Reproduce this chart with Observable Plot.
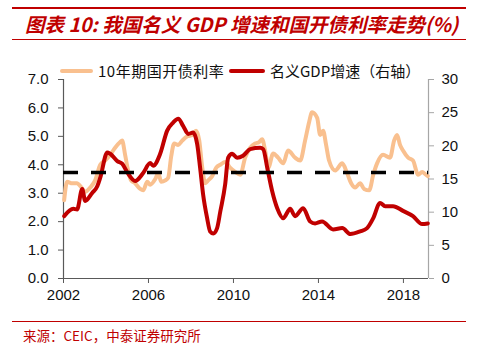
<!DOCTYPE html>
<html>
<head>
<meta charset="utf-8">
<script src="https://cdn.jsdelivr.net/npm/d3@7"></script>
<script src="https://cdn.jsdelivr.net/npm/@observablehq/plot@0.6"></script>
<style>
  html, body { margin: 0; padding: 0; background: #fff; }
  #wrap { position: relative; width: 480px; height: 353px; overflow: hidden; font-family: "Noto Sans CJK SC", sans-serif; }
  #chart { position: absolute; left: 0; top: 0; }
  .hline { position: absolute; left: 12px; width: 454px; background: #C00000; }
  #title { position: absolute; left: 25px; top: 11px; font-size: 19.5px; font-weight: bold; font-style: italic; color: #C00000; white-space: nowrap; line-height: 26px; }
  .leg { position: absolute; top: 61px; font-size: 15px; line-height: 20px; color: #111; white-space: nowrap; }
  .sw { position: absolute; height: 4px; top: 69px; border-radius: 2px; }
  #source { position: absolute; left: 23px; top: 326px; font-size: 13.5px; line-height: 18px; color: #C00000; white-space: nowrap; }
</style>
</head>
<body>
<div id="wrap">
  <div id="chart"></div>
  <div class="hline" style="top:7px;height:2px;"></div>
  <div id="title">图表 10: 我国名义 GDP 增速和国开债利率走势(%)</div>
  <div class="hline" style="top:39px;height:1px;"></div>
  <div class="sw" style="left:60px;width:33px;background:#F9C08F;"></div>
  <div class="leg" style="left:98px;letter-spacing:0.5px;">10年期国开债利率</div>
  <div class="sw" style="left:229px;width:36px;background:#C00000;"></div>
  <div class="leg" style="left:270px;">名义GDP增速（右轴）</div>
  <div class="hline" style="top:321px;height:1px;"></div>
  <div id="source">来源：CEIC，中泰证券研究所</div>
</div>
<script>
// 10-year CDB bond yield (left axis, %)
const yieldYears = [2002.03,2002.17,2002.41,2002.64,2002.79,2003.02,2003.26,2003.49,2003.73,2003.96,2004.20,2004.43,2004.67,2004.76,2004.90,2005.04,2005.18,2005.37,2005.61,2005.75,2005.94,2006.08,2006.32,2006.46,2006.60,2006.79,2006.93,2007.07,2007.21,2007.40,2007.59,2007.83,2008.06,2008.24,2008.39,2008.53,2008.67,2008.81,2009.00,2009.19,2009.38,2009.61,2009.84,2010.08,2010.32,2010.55,2010.79,2011.02,2011.21,2011.35,2011.49,2011.64,2011.87,2012.10,2012.34,2012.57,2012.90,2013.14,2013.37,2013.56,2013.70,2013.94,2014.08,2014.22,2014.36,2014.50,2014.79,2015.12,2015.35,2015.54,2015.73,2015.96,2016.15,2016.39,2016.58,2016.76,2017.04,2017.37,2017.56,2017.70,2017.84,2017.98,2018.22,2018.45,2018.69,2018.88,2019.06,2019.15];
const yieldValues = [2.75,3.40,3.35,3.35,3.25,3.05,3.20,3.45,4.00,4.15,4.35,4.60,4.80,4.85,4.35,3.80,3.45,3.35,3.15,3.10,3.40,3.30,3.50,3.70,3.40,3.45,3.55,4.30,4.75,4.70,4.85,5.00,5.05,5.20,4.85,3.90,3.35,3.45,3.60,3.90,4.00,4.10,3.90,3.75,3.65,4.25,4.60,4.75,4.80,4.90,4.50,3.90,4.40,4.25,4.05,4.50,4.25,4.15,4.85,5.50,5.85,5.65,5.05,5.20,4.70,4.15,3.80,4.05,3.70,3.35,3.20,3.35,3.15,3.10,3.65,4.05,4.35,4.25,4.85,5.05,4.70,4.50,4.25,4.15,3.65,3.75,3.65,3.60];
// Nominal GDP growth (right axis, %)
const gdpYears = [2002.03,2002.46,2002.64,2002.88,2003.02,2003.35,2003.59,2003.73,2004.06,2004.20,2004.53,2004.76,2005.04,2005.37,2005.75,2006.08,2006.22,2006.55,2006.88,2007.16,2007.40,2007.63,2007.87,2008.10,2008.29,2008.43,2008.57,2008.76,2008.90,2009.05,2009.23,2009.38,2009.61,2009.75,2009.94,2010.17,2010.45,2010.79,2011.26,2011.40,2011.59,2011.82,2012.06,2012.34,2012.67,2012.90,2013.28,2013.61,2013.84,2014.17,2014.69,2015.12,2015.50,2015.96,2016.29,2016.58,2016.90,2017.14,2017.51,2017.98,2018.45,2018.88,2019.15];
const gdpValues = [9.4,10.5,10.4,13.5,11.7,12.9,13.9,15.2,19.0,18.8,17.7,17.3,15.8,14.7,15.9,17.4,17.0,18.8,22.3,23.5,24.1,23.0,21.8,22.0,20.3,16.7,12.7,9.1,7.1,6.8,7.6,10.1,14.2,18.2,18.8,18.2,18.5,19.5,19.7,19.5,16.7,13.2,10.6,9.1,10.5,9.4,10.6,8.6,8.3,8.6,7.4,7.6,6.7,7.1,7.6,9.1,11.4,10.9,10.9,10.2,9.4,8.2,8.3];
const avgYield = 3.73;
const leftTicks = [0,1,2,3,4,5,6,7];
const rightTicks = [0,5,10,15,20,25,30];
const yearTicks = [2002,2006,2010,2014,2018];
const xStart = 2002, xEnd = 2019.18;

const k = 7 / 30; // right-axis to left-axis conversion
const yieldData = yieldYears.map((t, i) => ({t, v: yieldValues[i]}));
const gdpData = gdpYears.map((t, i) => ({t, v: gdpValues[i] * k}));

const axisFont = "Liberation Sans, Arial, sans-serif";
const chart = Plot.plot({
  width: 480,
  height: 353,
  marginLeft: 63,
  marginRight: 52,
  marginTop: 79,
  marginBottom: 75,
  style: {fontFamily: axisFont, fontSize: "15px", color: "#111", background: "transparent"},
  x: {domain: [xStart, xEnd], nice: false},
  y: {domain: [0, 7], nice: false},
  marks: [
    Plot.axisY({anchor: "left", ticks: leftTicks, tickFormat: d => d.toFixed(1), tickSize: 5, tickPadding: 10, stroke: "#595959", fontSize: 15, label: null}),
    Plot.axisY({anchor: "right", ticks: rightTicks.map(d => d * k), tickFormat: d => String(Math.round(d / k)), tickSize: 5, tickPadding: 8, stroke: "#a6a6a6", fontSize: 15, label: null}),
    Plot.axisX({ticks: yearTicks, tickFormat: d => String(d), tickSize: 5, tickPadding: 6, stroke: "#595959", fontSize: 15, label: null}),
    Plot.ruleX([xStart], {stroke: "#595959", strokeWidth: 1.2}),
    Plot.ruleX([xEnd], {stroke: "#a6a6a6", strokeWidth: 1.2}),
    Plot.ruleY([0], {stroke: "#595959", strokeWidth: 1.2}),
    Plot.line(yieldData, {x: "t", y: "v", stroke: "#F9C08F", strokeWidth: 4, curve: "monotone-x", strokeLinejoin: "round"}),
    Plot.line(gdpData, {x: "t", y: "v", stroke: "#C00000", strokeWidth: 4, curve: "monotone-x", strokeLinejoin: "round"}),
    Plot.ruleY([avgYield], {stroke: "#000", strokeWidth: 3.5, strokeDasharray: "15,13"})
  ]
});
document.getElementById("chart").appendChild(chart);
</script>
</body>
</html>
